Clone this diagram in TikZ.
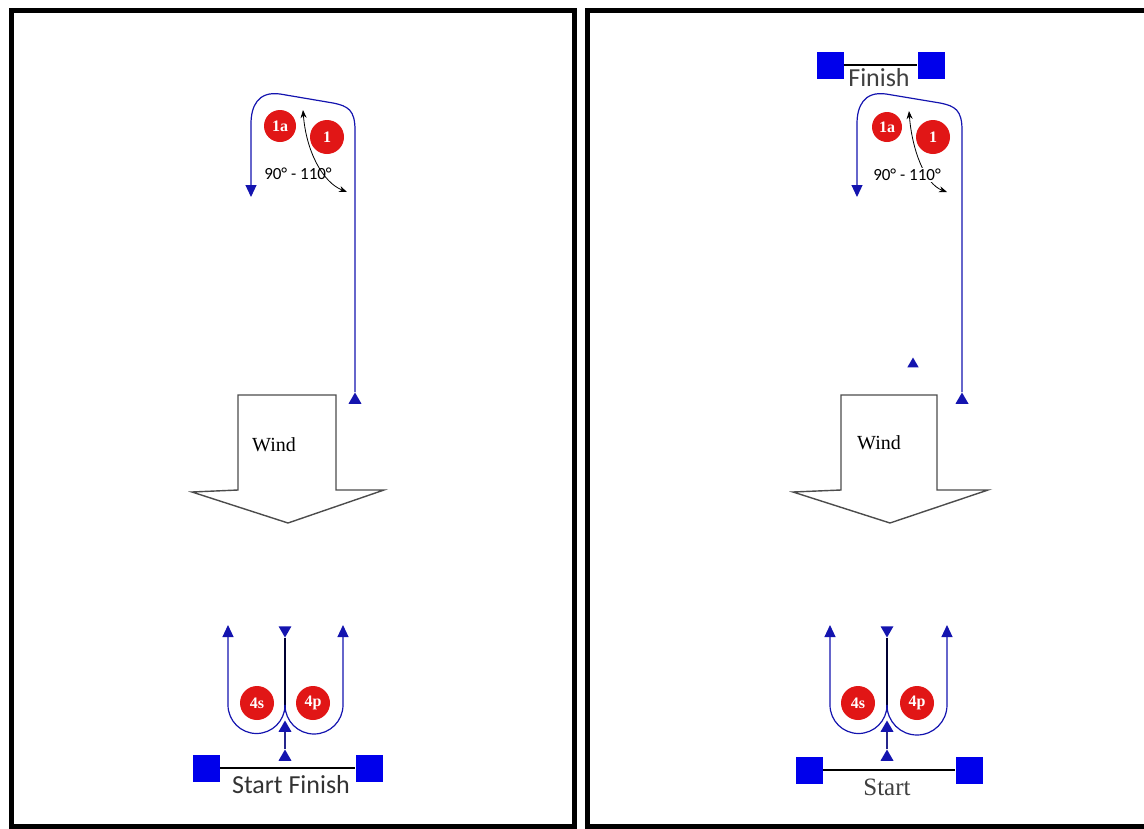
\documentclass[tikz,border=0pt]{standalone}
\usepackage{fontspec}
\setmainfont{Liberation Serif}
\newfontfamily\calib{Carlito}
\usepackage{tikz}
\usetikzlibrary{arrows.meta,positioning,calc,shapes.geometric}

\definecolor{routeblue}{RGB}{38,38,140}
\definecolor{markblue}{RGB}{20,20,175}
\definecolor{buoyblue}{RGB}{0,0,235}
\definecolor{markred}{RGB}{225,22,22}

\begin{document}
\begin{tikzpicture}[x=1pt,y=-1pt,
    route/.style={line width=1.2pt, routeblue},
    routetip/.style={-{Triangle[width=11pt,length=12pt]}, markblue},
    tri/.style={regular polygon, regular polygon sides=3, fill=markblue,
      inner sep=0pt, minimum size=15pt},
    tridown/.style={tri, shape border rotate=180},
    markdisc/.style={circle, fill=markred, text=white, inner sep=0pt,
      minimum size=34pt, font=\bfseries\fontsize{16}{16}\selectfont},
    buoy/.style={fill=buoyblue, inner sep=0pt, minimum size=27pt},
    anglearc/.style={black, line width=0.8pt, {Stealth[length=8pt]}-{Stealth[length=8pt]}},
    windarrow/.style={line width=1.4pt, black!70},
    panel/.style={line width=5pt, black}]
    \useasboundingbox (0,0) rectangle (1144,828);

    % panels
    \draw[panel] (11,10) rectangle (574,826);
    \draw[panel] (587,10) rectangle (1147,826);

    % ---------- left panel ----------
    % leg 1
    \node[tri] (Lstart) at (355,400) {};
    \draw[route, routetip] (Lstart.north) -- (355,130)
      .. controls (355,110) and (348,106) .. (333,103) -- (280,94)
      .. controls (258,91) and (251,106) .. (251,124) -- (251,197);
    \node[markdisc, minimum size=32pt] (L1a) at (280,126) {1a};
    \node[markdisc] (L1) at (327,137) {1};
    \coordinate (Langtop) at (303,110);
    \coordinate (Langend) at (347,192);
    \draw[anglearc] (Langtop) .. controls (306,150) and (322,182) .. (Langend);
    \node[font=\calib\fontsize{17}{17}\selectfont] (Lang) at (298,174) {90° - 110°};

    % wind
    \draw[windarrow] (238,490) -- (238,395) -- (336,395) -- (336,490) -- (384,490)
      -- (288,523) -- (192,492) -- cycle;
    \node[font=\fontsize{20}{20}\selectfont] (Lwind) at (274,445) {Wind};

    % leg 4
    \node[tridown] (Ltop) at (285,630) {};
    \draw[route, black!80!blue] (Ltop.south) -- (285,712);
    \draw[route, routetip] (285,712) -- (285,705) arc[start angle=0, end angle=180, radius=28.5]
      -- (228,625);
    \draw[route, routetip] (285,712) -- (285,705) arc[start angle=180, end angle=0, radius=29]
      -- (343,625);
    \node[markdisc] (L4s) at (257,703) {4s};
    \node[markdisc] (L4p) at (313,703) {4p};
    \node[tri] (Lup) at (285,728) {};
    \node[tri] (Llow) at (285,757) {};
    \draw[route] (Llow) -- (Lup);

    % start / finish line
    \node[buoy] (Lpin) at (206,768) {};
    \node[buoy] (Lboat) at (369,768) {};
    \draw[line width=1.3pt] (Lpin.east) -- (Lboat.west);
    \node[font=\calib\fontsize{26}{26}\selectfont, text=black!80] (Lline) at (291,785) {Start Finish};

    % ---------- right panel ----------
    % finish line
    \node[buoy] (Rfpin) at (830,65) {};
    \node[buoy] (Rfboat) at (931,65) {};
    \draw[line width=1.3pt] (Rfpin.east) -- (Rfboat.west);
    \node[font=\calib\fontsize{26}{26}\selectfont, text=black!75] (Rfinish) at (879,78) {Finish};

    % leg 1
    \node[tri] (Rstart) at (962,400) {};
    \draw[route, routetip] (Rstart.north) -- (962,130)
      .. controls (962,110) and (955,106) .. (940,103) -- (886,94)
      .. controls (864,91) and (857,106) .. (857,124) -- (857,197);
    \node[markdisc, minimum size=30pt] (R1a) at (887,127) {1a};
    \node[markdisc] (R1) at (933,137) {1};
    \coordinate (Rangtop) at (909,111);
    \coordinate (Rangend) at (947,192);
    \draw[anglearc] (Rangtop) .. controls (912,150) and (925,184) .. (Rangend);
    \node[font=\calib\fontsize{17}{17}\selectfont, fill=white, inner sep=1pt] (Rang) at (907,175) {90° - 110°};
    \node[tri, minimum size=13pt] (Rlay) at (913,364) {};

    % wind
    \draw[windarrow] (841,490) -- (841,395) -- (937,395) -- (937,490) -- (988,490)
      -- (890,523) -- (793,492) -- cycle;
    \node[font=\fontsize{20}{20}\selectfont] (Rwind) at (879,443) {Wind};

    % leg 4
    \node[tridown] (Rtop) at (887,630) {};
    \draw[route, black!80!blue] (Rtop.south) -- (887,712);
    \draw[route, routetip] (887,712) -- (887,705) arc[start angle=0, end angle=180, radius=28.5]
      -- (830,625);
    \draw[route, routetip] (887,712) -- (887,705) arc[start angle=180, end angle=0, radius=30]
      -- (947,625);
    \node[markdisc] (R4s) at (858,703) {4s};
    \node[markdisc] (R4p) at (917,703) {4p};
    \node[tri] (Rup) at (887,728) {};
    \node[tri] (Rlow) at (887,757) {};
    \draw[route] (Rlow) -- (Rup);

    % start line
    \node[buoy] (Rpin) at (809,770) {};
    \node[buoy] (Rboat) at (969,770) {};
    \draw[line width=1.3pt] (Rpin.east) -- (Rboat.west);
    \node[font=\fontsize{25}{25}\selectfont, text=black!75] (Rline) at (887,787) {Start};
  \end{tikzpicture}
\end{document}
